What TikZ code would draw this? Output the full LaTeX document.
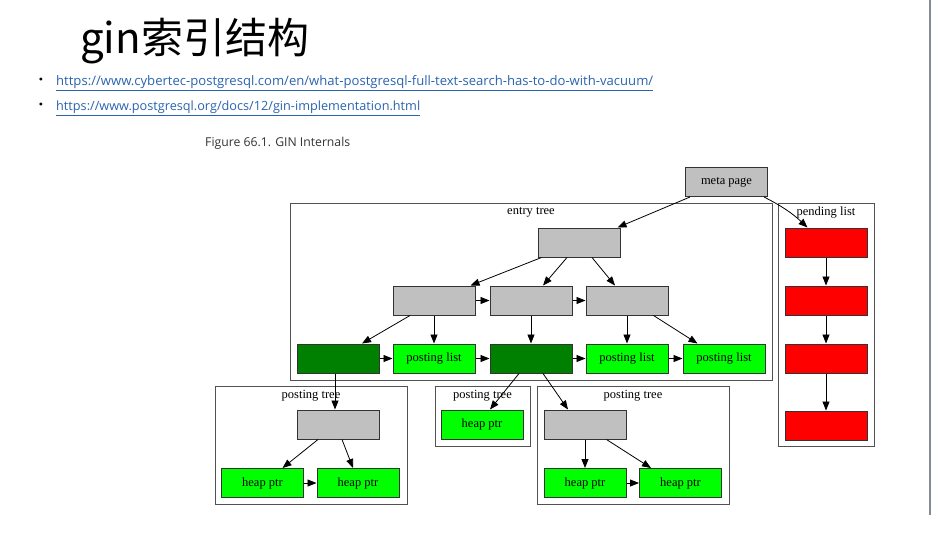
\documentclass[tikz,border=0pt]{standalone}
\usepackage{fontspec}
\setmainfont{Liberation Serif}
\newfontfamily\cjkfont{Noto Sans CJK SC}
\newfontfamily\slidefont{Open Sans}
\usetikzlibrary{arrows.meta}
\definecolor{gvgray}{HTML}{C0C0C0}
\definecolor{gvdgreen}{HTML}{008000}
\definecolor{gvgreen}{HTML}{00FF00}
\definecolor{gvred}{HTML}{FF0000}
\definecolor{gvborder}{HTML}{333333}
\definecolor{linkblue}{HTML}{2A64B0}
\definecolor{capgray}{HTML}{333333}
\definecolor{sideline}{HTML}{858A95}
\tikzset{
  gvbox/.style={draw=gvborder, line width=1pt, minimum width=82pt, minimum height=29pt, inner sep=0pt, font=\fontsize{12.5}{13}\selectfont},
  graybox/.style={gvbox, fill=gvgray},
  dgreenbox/.style={gvbox, fill=gvdgreen},
  greenbox/.style={gvbox, fill=gvgreen},
  redbox/.style={gvbox, fill=gvred},
  cluster/.style={draw=gvborder!85, line width=1pt, inner sep=0pt},
  clabel/.style={font=\fontsize{12.5}{13}\selectfont, inner sep=0pt},
  arr/.style={-{Triangle[length=9pt,width=7pt]}, line width=0.8pt, black},
}
\begin{document}
\begin{tikzpicture}[x=1pt,y=-1pt]
\useasboundingbox[fill=white] (0,0) rectangle (951,539);
% slide
\node[anchor=base west, inner sep=0pt, font=\cjkfont\fontsize{42}{44}\selectfont] (title) at (80,53) {gin索引结构};
\node[inner sep=0pt, font=\fontsize{12}{12}\selectfont] (b1) at (41,81) {\textbullet};
\node[inner sep=0pt, font=\fontsize{12}{12}\selectfont] (b2) at (41,106) {\textbullet};
\node[anchor=base west, inner sep=0pt, text=linkblue] (l1) at (56,85) {\resizebox{597pt}{!}{\slidefont\underline{https://www.cybertec-postgresql.com/en/what-postgresql-full-text-search-has-to-do-with-vacuum/}}};
\node[anchor=base west, inner sep=0pt, text=linkblue] (l2) at (56,110) {\resizebox{364pt}{!}{\slidefont\underline{https://www.postgresql.org/docs/12/gin-implementation.html}}};
\node[anchor=base west, inner sep=0pt, text=capgray] (cap) at (205,146.5) {\resizebox{145pt}{!}{\slidefont Figure 66.1. GIN Internals}};
\draw[sideline, line width=1.2pt] (930,0) coordinate (s1) -- (930,515) coordinate (s2);
% clusters
\node[cluster, minimum width=482pt, minimum height=177pt] (entry) at (531,291.5) {};
\node[clabel] (entryl) at (531,212.5) {entry tree};
\node[cluster, minimum width=96pt, minimum height=243pt] (pend) at (826,324.5) {};
\node[clabel] (pendl) at (826,212.5) {pending list};
\node[cluster, minimum width=192pt, minimum height=118pt] (pt1) at (311,445) {};
\node[clabel] (pt1l) at (311,395.5) {posting tree};
\node[cluster, minimum width=95pt, minimum height=60pt] (pt2) at (482.5,416) {};
\node[clabel] (pt2l) at (482.5,395.5) {posting tree};
\node[cluster, minimum width=192pt, minimum height=118pt] (pt3) at (633,445) {};
\node[clabel] (pt3l) at (633,395.5) {posting tree};
% nodes
\node[graybox] (meta) at (726.5,182) {meta page};
\node[graybox] (root) at (579,242.5) {};
\node[graybox] (A) at (434,300.5) {};
\node[graybox] (B) at (531,300.5) {};
\node[graybox] (C) at (627,300.5) {};
\node[dgreenbox] (D1) at (338,358.5) {};
\node[greenbox] (P1) at (434,358.5) {posting list};
\node[dgreenbox] (D2) at (531,358.5) {};
\node[greenbox] (P2) at (627,358.5) {posting list};
\node[greenbox] (P3) at (724,358.5) {posting list};
\node[redbox] (R1) at (826,242.5) {};
\node[redbox] (R2) at (826,300.5) {};
\node[redbox] (R3) at (826,358.5) {};
\node[redbox] (R4) at (826,425.5) {};
\node[graybox] (T1) at (338,424.5) {};
\node[greenbox] (H1a) at (262.5,483) {heap ptr};
\node[greenbox] (H1b) at (358,483) {heap ptr};
\node[greenbox] (H2) at (482,424.5) {heap ptr};
\node[graybox] (T3) at (585,424.5) {};
\node[greenbox] (H3a) at (585,483) {heap ptr};
\node[greenbox] (H3b) at (680.5,483) {heap ptr};
% edges
\draw[arr] ([xshift=5pt]meta.south west) -- ([xshift=-3pt]root.north east);
\draw[arr] ([xshift=-4pt]meta.south east) to[bend left=8] ([xshift=23pt]R1.north west);
\draw[arr] ([xshift=4pt]root.south west) -- ([xshift=-5pt]A.north east);
\draw[arr] ([xshift=-12pt]root.south) -- ([xshift=12pt]B.north);
\draw[arr] ([xshift=13pt]root.south) -- ([xshift=-12pt]C.north);
\draw[arr] (A) -- (B);
\draw[arr] (B) -- (C);
\draw[arr] ([xshift=-24pt]A.south) -- ([xshift=24pt]D1.north);
\draw[arr] (A) -- (P1);
\draw[arr] (B) -- (D2);
\draw[arr] (C) -- (P2);
\draw[arr] ([xshift=-15pt]C.south east) -- ([xshift=15pt]P3.north west);
\draw[arr] (D1) -- (P1);
\draw[arr] (P1) -- (D2);
\draw[arr] (D2) -- (P2);
\draw[arr] (P2) -- (P3);
\draw[arr] ([xshift=-3pt]D1.south) -- ([xshift=-3pt]T1.north);
\draw[arr] ([xshift=-12pt]D2.south) -- ([xshift=8pt]H2.north);
\draw[arr] ([xshift=12pt]D2.south) -- ([xshift=-17pt]T3.north);
\draw[arr] ([xshift=-20pt]T1.south) -- ([xshift=20pt]H1a.north);
\draw[arr] ([xshift=4pt]T1.south) -- ([xshift=-5pt]H1b.north);
\draw[arr] (H1a) -- (H1b);
\draw[arr] (T3) -- (H3a);
\draw[arr] ([xshift=-20pt]T3.south east) -- ([xshift=12pt]H3b.north west);
\draw[arr] (H3a) -- (H3b);
\draw[arr] (R1) -- (R2);
\draw[arr] (R2) -- (R3);
\draw[arr] (R3) -- (R4);
\end{tikzpicture}
\end{document}
